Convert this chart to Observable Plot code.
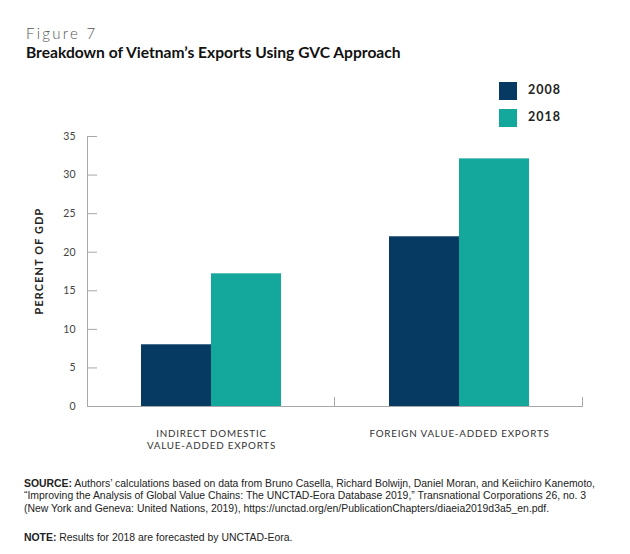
<!DOCTYPE html>
<html>
<head>
<meta charset="utf-8">
<script src="https://cdn.jsdelivr.net/npm/d3@7"></script>
<script src="https://cdn.jsdelivr.net/npm/@observablehq/plot@0.6"></script>
<style>
  html, body { margin: 0; padding: 0; background: #fff; }
  body { width: 630px; height: 554px; position: relative; overflow: hidden; font-family: Lato, "Open Sans", sans-serif; color: #222; }
  .fig { position: absolute; left: 26px; top: 24px; font-size: 15px; letter-spacing: 2.3px; color: #555; font-weight: 300; line-height: 18px; }
  .title { position: absolute; left: 26px; top: 43px; font-size: 15.6px; font-weight: 700; color: #111; line-height: 18px; white-space: nowrap; }
  .legend { position: absolute; left: 499px; top: 82px; }
  .legend .item { position: absolute; left: 0; width: 120px; height: 18px; }
  .legend .sw { position: absolute; left: 0; top: 0; width: 18px; height: 18px; }
  .legend .lab { position: absolute; left: 29px; top: 0px; font-size: 12.5px; font-weight: 700; letter-spacing: 1px; line-height: 16px; color: #222; }
  #chart { position: absolute; left: 0; top: 128px; }
  .foot { position: absolute; left: 24px; font-family: "Liberation Sans", Arial, sans-serif; font-size: 11px; line-height: 12.4px; color: #222; white-space: nowrap; transform-origin: 0 0; }
  .foot b { font-weight: 700; }
  [aria-label="fx-axis tick label"] { letter-spacing: 0.8px; }
</style>
</head>
<body>
<div class="fig">Figure 7</div>
<div class="title">Breakdown of Vietnam’s Exports Using GVC Approach</div>
<div class="legend" id="legend"></div>
<div id="chart"></div>
<div class="foot" id="src" style="top:477px"><span id="l1"><b>SOURCE:</b> Authors’ calculations based on data from Bruno Casella, Richard Bolwijn, Daniel Moran, and Keiichiro Kanemoto,</span><br>“Improving the Analysis of Global Value Chains: The UNCTAD-Eora Database 2019,” Transnational Corporations 26, no. 3<br>(New York and Geneva: United Nations, 2019), https://unctad.org/en/PublicationChapters/diaeia2019d3a5_en.pdf.</div>
<div class="foot" id="note" style="top:531px"><b>NOTE:</b> Results for 2018 are forecasted by UNCTAD-Eora.</div>
<script>
// ---- data ----
const categories = ["INDIRECT DOMESTIC\nVALUE-ADDED EXPORTS", "FOREIGN VALUE-ADDED EXPORTS"];
const years = ["2008", "2018"];
const values2008 = [8.0, 22.0];
const values2018 = [17.2, 32.1];
const yTicks = [0, 5, 10, 15, 20, 25, 30, 35];
const yDomain = [0, 35];
const yLabel = "PERCENT OF GDP";
const colors = ["#063a63", "#14a89d"];
const axisColor = "#a8a8a8";

const rows = categories.flatMap((c, i) => [
  {cat: c, year: years[0], value: values2008[i]},
  {cat: c, year: years[1], value: values2018[i]}
]);

// legend
const legend = document.getElementById("legend");
years.forEach((yr, i) => {
  const item = document.createElement("div");
  item.className = "item";
  item.style.top = (i * 27) + "px";
  item.innerHTML = `<div class="sw" style="background:${colors[i]}"></div><div class="lab">${yr}</div>`;
  legend.appendChild(item);
});

const plot = Plot.plot({
  width: 630,
  height: 340,
  marginLeft: 86,
  marginRight: 47,
  marginTop: 8,
  marginBottom: 62,
  style: {fontFamily: "Lato, 'Open Sans', sans-serif", color: "#333", background: "transparent"},
  fx: {domain: categories, padding: 0, label: null, axis: null},
  x: {domain: years, paddingInner: 0, paddingOuter: 0.76, axis: null},
  y: {domain: yDomain, axis: null},
  color: {domain: years, range: colors},
  marks: [
    Plot.barY(rows, {fx: "cat", x: "year", y: "value", fill: "year"}),
    Plot.axisY({ticks: yTicks, tickSize: 0, tickPadding: 12, label: null, fontSize: 10.5, fill: "#444"}),
    Plot.axisY({ticks: yTicks, tickSize: 10, dx: 10, tickFormat: () => "", label: null, stroke: axisColor}),
    Plot.axisFx({anchor: "bottom", tickSize: 0, tickPadding: 22, label: null, fontSize: 9.8, lineHeight: 1.2, fill: "#333"})
  ]
});
document.getElementById("chart").appendChild(plot);

// axis frame lines, derived from the plot's own scales
const fxS = plot.scale("fx"), yS = plot.scale("y");
const svg = d3.select(plot);
const g = svg.append("g").attr("stroke", axisColor).attr("fill", "none").attr("stroke-width", 1);
const left = fxS.apply(categories[0]);
const right = fxS.apply(categories[categories.length - 1]) + fxS.bandwidth;
const y0 = yS.apply(yDomain[0]), y1 = yS.apply(yDomain[1]);
g.append("line").attr("x1", left + 0.5).attr("x2", left + 0.5).attr("y1", y0).attr("y2", y1);
g.append("line").attr("x1", left).attr("x2", right).attr("y1", y0 + 0.5).attr("y2", y0 + 0.5);
for (const c of categories) {
  const xe = fxS.apply(c) + fxS.bandwidth - 0.5;
  g.append("line").attr("x1", xe).attr("x2", xe).attr("y1", y0).attr("y2", y0 - 9);
}
svg.append("text")
  .attr("transform", `translate(${left - 44},${(y0 + y1) / 2 - 10}) rotate(-90)`)
  .attr("text-anchor", "middle")
  .attr("font-size", 10.8)
  .attr("font-weight", "bold")
  .attr("letter-spacing", "1.2px")
  .attr("fill", "#222")
  .text(yLabel);

// fit the footer's narrow lines to the reference width
const l1 = document.getElementById("l1");
const k = 571 / l1.getBoundingClientRect().width;
for (const id of ["src", "note"]) document.getElementById(id).style.transform = `scaleX(${k})`;
</script>
</body>
</html>
